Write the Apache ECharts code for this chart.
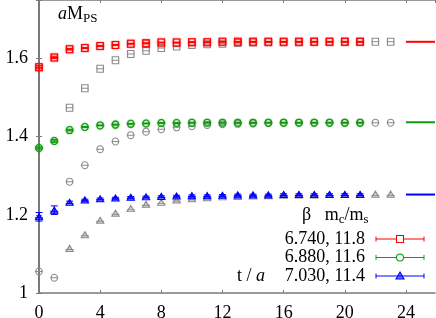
<!DOCTYPE html>
<html><head><meta charset="utf-8">
<script src="https://cdn.jsdelivr.net/npm/echarts@6/dist/echarts.min.js"></script>
<style>html,body{margin:0;padding:0;background:#fff}#c{width:436px;height:318px}</style>
</head><body><div id="c"></div>
<script>
// t values
const tColored = [0,1,2,3,4,5,6,7,8,9,10,11,12,13,14,15,16,17,18,19,20,21];
const tGray = [2,3,4,5,6,7,8,9,10,11,12,13,14,15,16,17,18,19,20,21,22,23];
const tGrayCircle = [0,1,2,3,4,5,6,7,8,9,10,11,12,13,14,15,16,17,18,19,20,21,22,23];

// beta = 6.740 (red)
const redVals = [1.578,1.603,1.624,1.627,1.632,1.635,1.638,1.639,1.641,1.641,1.642,1.642,1.643,1.643,1.643,1.643,1.643,1.643,1.643,1.643,1.643,1.643];
const redErrs = [0.004,0.003,0.002,0.001,0.001,0.001,0.001,0.001,0.001,0.001,0.001,0.001,0.001,0.001,0.001,0.001,0.001,0.001,0.001,0.001,0.001,0.001];
const redGray = [1.474,1.524,1.574,1.596,1.612,1.620,1.627,1.631,1.635,1.637,1.638,1.640,1.641,1.642,1.642,1.642,1.643,1.643,1.643,1.643,1.643,1.643];
const redFit = 1.643;

// beta = 6.880 (green)
const greenVals = [1.371,1.389,1.417,1.425,1.429,1.431,1.433,1.434,1.435,1.435,1.436,1.436,1.436,1.436,1.436,1.436,1.436,1.436,1.436,1.436,1.436,1.436];
const greenErrs = [0.003,0.004,0.002,0.001,0.001,0.001,0.001,0.001,0.001,0.001,0.001,0.001,0.001,0.001,0.001,0.001,0.001,0.001,0.001,0.001,0.001,0.001];
const greenGray = [1.055,1.039,1.285,1.327,1.368,1.388,1.404,1.413,1.419,1.424,1.427,1.430,1.432,1.433,1.434,1.435,1.436,1.436,1.436,1.436,1.436,1.436,1.436,1.436];
const greenFit = 1.437;

// beta = 7.030 (blue)
const blueVals = [1.195,1.212,1.232,1.238,1.241,1.243,1.245,1.246,1.247,1.248,1.249,1.249,1.250,1.251,1.251,1.251,1.252,1.252,1.252,1.252,1.252,1.252];
const blueErrs = [0.011,0.011,0.003,0.002,0.002,0.002,0.002,0.002,0.002,0.002,0.002,0.002,0.002,0.002,0.002,0.002,0.002,0.002,0.002,0.002,0.002,0.002];
const blueGray = [1.114,1.149,1.186,1.204,1.216,1.227,1.232,1.238,1.241,1.244,1.246,1.247,1.248,1.249,1.250,1.251,1.251,1.252,1.252,1.252,1.253,1.253];
const blueFit = 1.252;

const fitRange = [24, 25.9];
const xTicks = [0,4,8,12,16,20,24];
const yTicks = [1,1.2,1.4,1.6];

const legendLabels = ['6.740, 11.8','6.880, 11.6','7.030, 11.4'];

const SQ = 'path://M1,0H9V8H1Z M0,4H10';
const CI = 'path://M9,4A4,4 0 1 1 1,4A4,4 0 1 1 9,4Z M0,4H10';
const TR = 'path://M5,0L9.5,7.5H0.5Z M0,5H10';

const RED='#ff0000', GREEN='#119911', BLUE='#0000ff', GRAY='#8c8c8c';

function pts(ts, vs){ return ts.map((t,i)=>[t, vs[i]]); }
function errData(ts, vs, es){ return ts.map((t,i)=>[t, vs[i]-es[i], vs[i]+es[i]]); }

function errSeries(ts, vs, es, color){
  return {
    type:'custom', xAxisIndex:0, yAxisIndex:0, z:3, clip:false,
    data: errData(ts, vs, es),
    renderItem(params, api){
      const x = api.value(0);
      const p1 = api.coord([x, api.value(1)]);
      const p2 = api.coord([x, api.value(2)]);
      const w = 3.5;
      const st = {stroke: color, lineWidth: 1};
      return {type:'group', children:[
        {type:'line', shape:{x1:p1[0],y1:p1[1],x2:p2[0],y2:p2[1]}, style:st},
        {type:'line', shape:{x1:p1[0]-w,y1:p1[1],x2:p1[0]+w,y2:p1[1]}, style:st},
        {type:'line', shape:{x1:p2[0]-w,y1:p2[1],x2:p2[0]+w,y2:p2[1]}, style:st}
      ]};
    }
  };
}
function scat(data, symbol, size, color, fill, z, shadow){
  return {
    type:'scatter', data, symbol, symbolSize:size, z, clip:false,
    itemStyle:{color: fill, borderColor: color, borderWidth: 1.1,
      shadowBlur: shadow?1.5:0, shadowColor: shadow? color : 'transparent', opacity: 1},
    emphasis:{disabled:true}, silent:true
  };
}
function fitLine(v, color){
  return {type:'line', data:[[fitRange[0], v],[fitRange[1], v]], symbol:'none',
    lineStyle:{color, width:2}, z:2, silent:true};
}

const axisCol = '#7a7a7a';
const chart = echarts.init(document.getElementById('c'), null, {renderer:'canvas'});
const FONT = 'Liberation Serif';
const tickRich = {t:{fontFamily:FONT, fontSize:18, color:'#000'}};

const option = {
  animation:false,
  backgroundColor:'#fff',
  textStyle:{fontFamily:FONT},
  grid:{left:39, right:1, top:0, bottom:25, containLabel:false, outerBoundsMode:'none'},
  xAxis:[
    {type:'value', min:0, max:fitRange[1], interval:4, position:'bottom',
     axisLine:{show:true, lineStyle:{color:axisCol, width:1.5}},
     axisTick:{show:true, inside:true, length:3, lineStyle:{color:axisCol}},
     axisLabel:{color:'#000', fontFamily:FONT, fontSize:18, margin:11, rich:tickRich,
       formatter:v=> xTicks.includes(v)? '{t|'+v+'}':'' , showMaxLabel:false},
     splitLine:{show:false}},
    {type:'value', min:0, max:fitRange[1], interval:4, position:'top',
     axisLine:{show:true, lineStyle:{color:axisCol, width:1.5}},
     axisTick:{show:true, inside:true, length:3, lineStyle:{color:axisCol}},
     axisLabel:{show:false}, splitLine:{show:false}}
  ],
  yAxis:[
    {type:'value', min:1, max:1.75, interval:0.2, position:'left',
     axisLine:{show:true, lineStyle:{color:axisCol, width:2}},
     axisTick:{show:true, inside:true, length:3, lineStyle:{color:axisCol}},
     axisLabel:{color:'#000', fontFamily:FONT, fontSize:18, margin:11, rich:tickRich,
       formatter:v=>{ const f = yTicks.find(y=>Math.abs(y-v)<1e-6); return f===undefined?'':'{t|'+f+'}'; }},
     splitLine:{show:false}},
    {type:'value', min:1, max:1.75, interval:0.2, position:'right',
     axisLine:{show:true, lineStyle:{color:axisCol, width:1.5}},
     axisTick:{show:true, inside:true, length:3, lineStyle:{color:axisCol}},
     axisLabel:{show:false}, splitLine:{show:false}}
  ],
  series:[
    scat(pts(tGray, redGray), SQ, [8,7], GRAY, 'transparent', 1, false),
    scat(pts(tGrayCircle, greenGray), CI, [8,7], GRAY, 'transparent', 1, false),
    scat(pts(tGray, blueGray), TR, [8,6], GRAY, 'rgba(140,140,140,0.35)', 1, false),
    fitLine(redFit, RED), fitLine(greenFit, GREEN), fitLine(blueFit, BLUE),
    errSeries(tColored, redVals, redErrs, RED),
    errSeries(tColored, greenVals, greenErrs, GREEN),
    errSeries(tColored, blueVals, blueErrs, BLUE),
    scat(pts(tColored, redVals), SQ, [8,7], RED, 'transparent', 4, true),
    scat(pts(tColored, greenVals), CI, [8,7], GREEN, 'transparent', 4, true),
    scat(pts(tColored, blueVals), TR, [8,6], BLUE, 'rgba(0,0,255,0.55)', 4, false)
  ],
  graphic:[
    {type:'text', left:58, top:5, style:{
      rich:{i:{fontFamily:FONT, fontSize:18, fontStyle:'italic', fill:'#000'},
            n:{fontFamily:FONT, fontSize:18, fill:'#000'},
            s:{fontFamily:FONT, fontSize:13, fill:'#000', padding:[9,0,0,0]}},
      text:'{i|a}{n|M}{s|PS}'}},
    {type:'text', left:302, top:206, style:{
      rich:{n:{fontFamily:FONT, fontSize:18, fill:'#000'},
            s:{fontFamily:FONT, fontSize:13, fill:'#000', padding:[9,0,0,0]}},
      text:'{n|β   m}{s|c}{n|/m}{s|s}'}},
    {type:'text', left:237, top:267, style:{
      rich:{n:{fontFamily:FONT, fontSize:18, fill:'#000'},
            i:{fontFamily:FONT, fontSize:18, fontStyle:'italic', fill:'#000'}},
      text:'{n|t / }{i|a}'}},
    ...legendLabels.map((lab,i)=>({type:'text', x:365, y:239+i*18.5, style:{
      text:lab, fontFamily:FONT, fontSize:18, fill:'#000', align:'right', verticalAlign:'middle'}})),
    ...[RED,GREEN,BLUE].map((col,i)=>({type:'group', x:0, y:239+i*18.5, children:[
      {type:'line', shape:{x1:376,y1:0,x2:424,y2:0}, style:{stroke:col, lineWidth:1}},
      {type:'line', shape:{x1:376,y1:-2.5,x2:376,y2:2.5}, style:{stroke:col, lineWidth:1}},
      {type:'line', shape:{x1:424,y1:-2.5,x2:424,y2:2.5}, style:{stroke:col, lineWidth:1}},
      i===0 ? {type:'rect', shape:{x:396.5,y:-3.5,width:7,height:7}, style:{stroke:col, fill:'#fff', lineWidth:1.1}} :
      i===1 ? {type:'circle', shape:{cx:400,cy:0,r:3.5}, style:{stroke:col, fill:'#fff', lineWidth:1.1}} :
              {type:'polygon', shape:{points:[[400,-4],[404,3],[396,3]]}, style:{stroke:col, fill:'rgba(0,0,255,0.55)', lineWidth:1.1}}
    ]}))
  ]
};
chart.setOption(option);
</script></body></html>
